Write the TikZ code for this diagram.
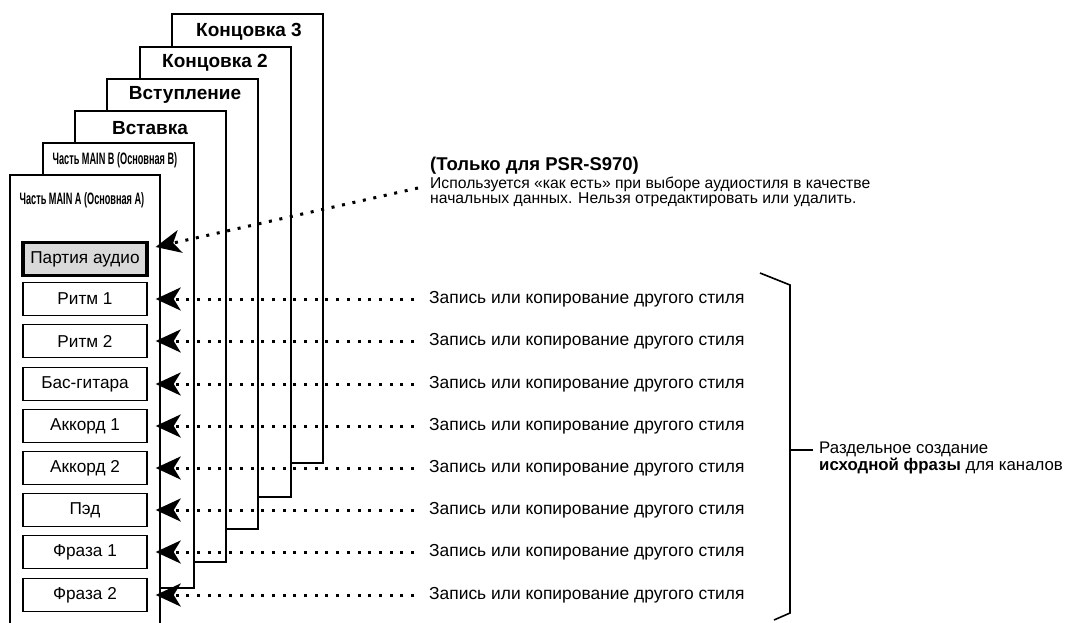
\documentclass[tikz,border=0pt]{standalone}
\usepackage{fontspec}
\setmainfont{Liberation Sans}
\usetikzlibrary{arrows.meta}

\tikzset{
  page/.style={line width=2.8pt},
  title/.style={inner sep=0pt, font=\fontsize{19}{22}\selectfont\bfseries},
  cond/.style={inner sep=0pt, font=\fontsize{16.5}{19}\selectfont\bfseries},
  part/.style={draw, line width=1.4pt, minimum width=124pt, minimum height=33pt, inner sep=0pt, font=\fontsize{17.2}{20}\selectfont},
  rec/.style={line width=3pt, dash pattern=on 3pt off 7.7pt, -{Stealth[length=25pt,width=23pt,inset=7pt]}},
  copy/.style={anchor=west, inner sep=0pt, font=\fontsize{17.4}{20}\selectfont},
}

\begin{document}
\begin{tikzpicture}[x=1pt,y=-1pt]
\useasboundingbox (0,0) rectangle (1070,623);
% pages behind, back to front
\foreach \l/\t/\b in {172/14/463, 140/47/497, 107/79/529, 75/111/562, 43/143/588} {
  \fill[white] (\l,\t) rectangle ({\l+151},\b);
  \draw[page] (\l,\t) rectangle ({\l+151},\b);
}
% front page (MAIN A), runs off the bottom
\fill[white] (10,175) rectangle (160,640);
\draw[page] (10,640) -- (10,175) -- (160,175) -- (160,640);
% page titles
\node[title] (end3) at (249,32) {Концовка 3};
\node[title] (end2) at (215,63) {Концовка 2};
\node[title] (intro) at (185,95) {Вступление};
\node[title] (fillin) at (150,128) {Вставка};
\node[cond] (mainB) at (115,160) {\scalebox{0.555}[1]{Часть MAIN B (Основная B)}};
\node[cond] (mainA) at (82,200) {\scalebox{0.555}[1]{Часть MAIN A (Основная A)}};
% channels
\node[part, fill=black!15, line width=3.2pt] (audio) at (85,259) {Партия аудио};
\foreach \i/\y/\n in {1/299/Ритм 1, 2/341/Ритм 2, 3/384/Бас-гитара, 4/426/Аккорд 1,
                      5/468/Аккорд 2, 6/510/Пэд, 7/552/Фраза 1, 8/595/Фраза 2} {
  \node[part] (p\i) at (85,\y) {\n};
  \node[copy] (r\i) at (429,\y) {Запись или копирование другого стиля};
  \draw[rec, shorten <=15pt, shorten >=8pt] (r\i.west) -- (p\i.east);
}
% audio note
\node[anchor=north west, align=left, inner sep=0pt, font=\fontsize{15.7}{15.5}\selectfont] (note) at (430,157)
  {{\fontsize{18.5}{18}\selectfont\bfseries (Только для PSR-S970)}\\[2pt]Используется «как есть» при выборе аудиостиля в качестве\\начальных данных. Нельзя отредактировать или удалить.};
\coordinate (fromnote) at (418,188);
\draw[rec] (fromnote) -- ([xshift=7pt,yshift=12pt]audio.east);
% bracket
\draw[line width=1.6pt] (760,273) -- (790,285) -- (790,613) -- (774,620);
\coordinate (bmid) at (790,450);
\draw[line width=1.6pt] (bmid) -- ++(23,0);
\node[anchor=north west, align=left, inner sep=0pt, font=\fontsize{16.8}{17}\selectfont] (sum) at (819,442)
  {Раздельное создание\\\textbf{исходной фразы} для каналов};
\end{tikzpicture}
\end{document}
